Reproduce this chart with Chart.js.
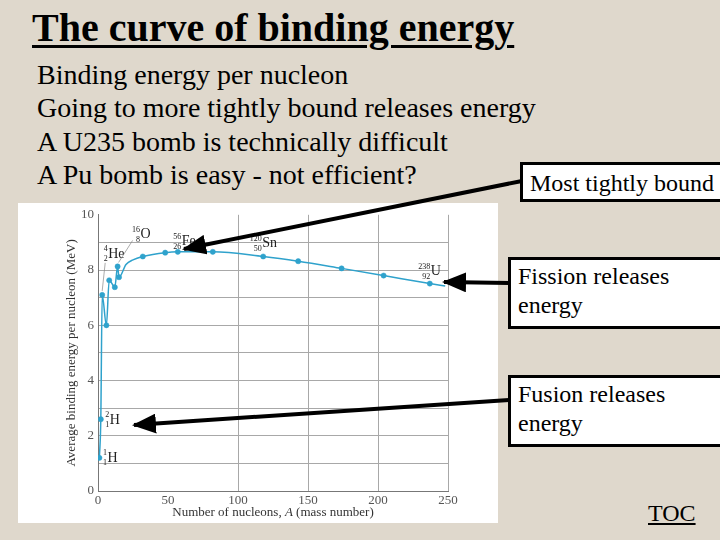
<!DOCTYPE html>
<html>
<head>
<meta charset="utf-8">
<script src="https://cdn.jsdelivr.net/npm/chart.js@4.4.1/dist/chart.umd.min.js"></script>
<style>
  body { margin: 0; width: 720px; height: 540px; background: #dfd8cc; position: relative; overflow: hidden;
         font-family: 'Liberation Serif', 'Times New Roman', serif; color: #000; }
  .title { position: absolute; left: 32px; top: 4px; font-size: 40px; font-weight: bold; white-space: nowrap;
           text-decoration: underline; text-decoration-thickness: 3px; text-underline-offset: 4px; }
  .body { position: absolute; left: 37px; top: 58px; font-size: 28px; line-height: 33.4px; white-space: nowrap; }
  .box { position: absolute; background: #fff; border: 3px solid #000; font-size: 24px; line-height: 29px; white-space: nowrap; }
  #chartWrap { position: absolute; left: 18px; top: 203px; width: 480px; height: 320px; background: #fff; }
  .toc { position: absolute; left: 648px; top: 500px; font-size: 24px; text-decoration: underline; }
  svg { position: absolute; left: 0; top: 0; }
</style>
</head>
<body>
<div class="title">The curve of binding energy</div>
<div class="body">
  Binding energy per nucleon<br>
  Going to more tightly bound releases energy<br>
  A U235 bomb is technically difficult<br>
  A Pu bomb is easy - not efficient?
</div>

<div id="chartWrap"><canvas id="beChart" width="480" height="320"></canvas></div>

<div class="box" style="left:520px; top:162px; width:210px; height:34px; padding-left:7px; line-height:36px;">Most tightly bound</div>
<div class="box" style="left:508px; top:257px; width:220px; height:64px; padding-left:7px; padding-top:2px;">Fission releases<br>energy</div>
<div class="box" style="left:508px; top:375px; width:220px; height:64px; padding-left:7px; padding-top:2px;">Fusion releases<br>energy</div>
<div class="toc">TOC</div>

<svg width="720" height="540">
  <defs>
    <marker id="head" markerWidth="6" markerHeight="5" refX="5.5" refY="2.5" orient="auto" markerUnits="strokeWidth">
      <path d="M0,0 L6,2.5 L0,5 z" fill="#000"></path>
    </marker>
  </defs>
  <line x1="522" y1="181" x2="184" y2="249" stroke="#000" stroke-width="4" marker-end="url(#head)"></line>
  <line x1="509" y1="283" x2="444" y2="282" stroke="#000" stroke-width="4" marker-end="url(#head)"></line>
  <line x1="509" y1="400" x2="134" y2="425" stroke="#000" stroke-width="4" marker-end="url(#head)"></line>
</svg>

<script>
// Mass number A and average binding energy per nucleon (MeV)
const massNumbers = [1, 2, 3, 6, 8, 12, 14, 15, 20, 25, 32, 48, 57, 82, 118, 143, 174, 204, 237, 248];
const energies = [1.2, 2.6, 7.1, 6.0, 7.63, 7.38, 8.13, 7.74, 8.2, 8.37, 8.49, 8.63, 8.66, 8.66, 8.49, 8.32, 8.06, 7.80, 7.51, 7.42];
// which of the points carry a dot marker
const hasMarker = [1, 1, 1, 1, 1, 1, 1, 1, 0, 0, 1, 1, 1, 1, 1, 1, 1, 1, 1, 0];

// Isotope labels and the point each one belongs to
const isoSymbols = ['H', 'H', 'He', 'O', 'Fe', 'Sn', 'U'];
const isoMass = ['1', '2', '4', '16', '56', '120', '238'];
const isoCharge = ['1', '1', '2', '8', '26', '50', '92'];
const isoPoint = [0, 1, 2, 6, 12, 14, 18];

const xTicks = [0, 50, 100, 150, 200, 250];
const yTickLabels = [0, 2, 4, 6, 8, 10];

const lineColor = '#2fa2cc';
const serif = "'Liberation Serif', 'Times New Roman', serif";

// label placement next to its point: [dx, dy, leader]
const labelOffsets = [
    [8, 0, null],
    [9, 1, null],
    [6, -41, [0, -4, 3, -32]],
    [23, -32, [1, -4, 15, -26]],
    [4, -10, null],
    [-1, -13, null],
    [1, -12, null]
];

const isotopeLabels = {
    id: 'isotopeLabels',
    afterDatasetsDraw(chart) {
        const ctx = chart.ctx;
        const meta = chart.getDatasetMeta(0);
        ctx.save();
        ctx.fillStyle = '#222';
        ctx.textBaseline = 'middle';
        isoSymbols.forEach(function(sym, i) {
            const pt = meta.data[isoPoint[i]];
            const off = labelOffsets[i];
            const sx = pt.x + off[0];
            const sy = pt.y + off[1];
            if (off[2]) {
                ctx.strokeStyle = '#888';
                ctx.lineWidth = 0.7;
                ctx.beginPath();
                ctx.moveTo(pt.x + off[2][0], pt.y + off[2][1]);
                ctx.lineTo(pt.x + off[2][2], pt.y + off[2][3]);
                ctx.stroke();
            }
            ctx.font = '14px ' + serif;
            ctx.textAlign = 'left';
            ctx.fillText(sym, sx, sy);
            ctx.font = '8px ' + serif;
            ctx.textAlign = 'right';
            ctx.fillText(isoMass[i], sx - 0.5, sy - 5);
            ctx.fillText(isoCharge[i], sx - 0.5, sy + 5);
        });

        // x axis title with italic A
        const area = chart.chartArea;
        const parts = [['Number of nucleons, ', ''], ['A', 'italic '], [' (mass number)', '']];
        let total = 0;
        parts.forEach(function(p) {
            ctx.font = p[1] + '13px ' + serif;
            total += ctx.measureText(p[0]).width;
        });
        let x = (area.left + area.right) / 2 - total / 2;
        ctx.fillStyle = '#333';
        ctx.textAlign = 'left';
        parts.forEach(function(p) {
            ctx.font = p[1] + '13px ' + serif;
            ctx.fillText(p[0], x, 310);
            x += ctx.measureText(p[0]).width;
        });
        ctx.restore();
    }
};

document.addEventListener('DOMContentLoaded', function() {
    const points = massNumbers.map(function(a, i) { return { x: a, y: energies[i] }; });
    const radii = hasMarker.map(function(m) { return m ? 2.6 : 0; });

    new Chart(document.getElementById('beChart'), {
        type: 'line',
        data: {
            datasets: [{
                data: points,
                borderColor: lineColor,
                backgroundColor: lineColor,
                pointBackgroundColor: lineColor,
                pointBorderColor: lineColor,
                pointBorderWidth: 0.5,
                pointRadius: radii,
                borderWidth: 1.5,
                cubicInterpolationMode: 'monotone',
                fill: false
            }]
        },
        options: {
            responsive: false,
            animation: false,
            layout: { padding: { top: 10, right: 50, left: 0, bottom: 0 } },
            plugins: {
                legend: { display: false },
                tooltip: { enabled: false }
            },
            scales: {
                x: {
                    type: 'linear',
                    min: 0,
                    max: 250,
                    afterFit: function(axis) { axis.height = 32; },
                    afterBuildTicks: function(axis) { axis.ticks = xTicks.map(function(v) { return { value: v }; }); },
                    grid: {
                        drawTicks: false,
                        color: function(c) { return (c.tick.value === 50 || c.tick.value === 0) ? 'rgba(0,0,0,0)' : '#a8a8a8'; },
                        lineWidth: 1
                    },
                    border: { color: '#777', width: 1 },
                    ticks: { padding: 2, color: '#555', font: { family: serif, size: 13 } },
                    title: { display: false }
                },
                y: {
                    min: 0,
                    max: 10,
                    afterFit: function(axis) { axis.width = 80; },
                    ticks: {
                        stepSize: 1,
                        padding: 4,
                        color: '#555',
                        font: { family: serif, size: 13 },
                        callback: function(v) { return yTickLabels.indexOf(v) >= 0 ? String(v) : ''; }
                    },
                    grid: {
                        drawTicks: false,
                        color: function(c) { return (c.tick.value === 10 || c.tick.value === 0) ? 'rgba(0,0,0,0)' : '#a8a8a8'; },
                        lineWidth: 1
                    },
                    border: { color: '#777', width: 1 },
                    title: {
                        display: true,
                        text: 'Average binding energy per nucleon (MeV)',
                        color: '#333',
                        font: { family: serif, size: 13 },
                        padding: { top: 46, bottom: 0 }
                    }
                }
            }
        },
        plugins: [isotopeLabels]
    });
});
</script>
</body>
</html>
